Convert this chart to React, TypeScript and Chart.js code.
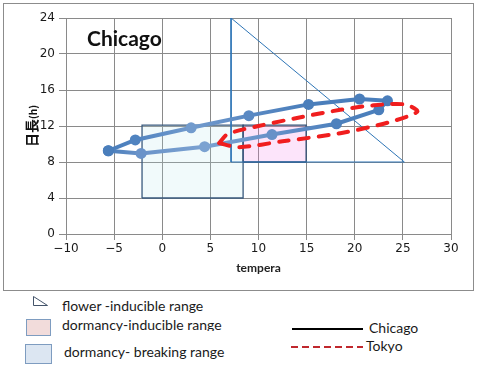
import React, { useEffect, useRef } from "react";
import { Chart, registerables } from "chart.js";

Chart.register(...registerables);

// ---- data ----
const months = ["Jan", "Feb", "Mar", "Apr", "May", "Jun", "Jul", "Aug", "Sep", "Oct", "Nov", "Dec"];
const chicagoTemp = [-5.6, -2.8, 3.0, 9.0, 15.2, 20.5, 23.4, 22.5, 18.1, 11.4, 4.4, -2.2];
const chicagoDay = [9.25, 10.45, 11.8, 13.15, 14.4, 15.0, 14.8, 13.8, 12.25, 11.05, 9.7, 8.95];
const tokyoTemp = [5.9, 6.8, 10.0, 14.5, 18.5, 22.0, 25.2, 26.5, 23.5, 18.5, 12.5, 8.0];
const tokyoDay = [10.1, 11.1, 12.0, 13.0, 13.8, 14.3, 14.4, 13.6, 12.4, 11.2, 10.3, 9.65];
const flowerX = [7.15, 7.15, 25.15, 7.15];
const flowerY = [24, 8, 8, 24];
const breakingX = [-2.1, 8.4, 8.4, -2.1, -2.1];
const breakingY = [4, 4, 12.1, 12.1, 4];
const inducibleX = [8.4, 14.95, 14.95, 8.4, 8.4];
const inducibleY = [8, 8, 12.1, 12.1, 8];
const xTicks = [-10, -5, 0, 5, 10, 15, 20, 25, 30];
const yTicks = [0, 4, 8, 12, 16, 20, 24];

// ---- styles ----
const chicagoColors = [
  "#4a7ebb", "#5083c0", "#729bcd", "#5a89c3", "#4a7ebb", "#4a7ebb",
  "#4a7ebb", "#4a7ebb", "#4e81bd", "#6690c8", "#7ba2d1", "#6a93c9",
];

const toPts = (xs: number[], ys: number[]) => xs.map((x, i) => ({ x, y: ys[i] }));
const closeLoop = (xs: number[], ys: number[]) => {
  const p = toPts(xs, ys);
  return [...p, p[0]];
};

export default function App() {
  const ref = useRef<HTMLCanvasElement>(null);

  useEffect(() => {
    const canvas = ref.current;
    if (!canvas) return;
    const chart = new Chart(canvas, {
      type: "scatter",
      data: {
        labels: months,
        datasets: [
          {
            label: "Tokyo",
            data: closeLoop(tokyoTemp, tokyoDay),
            showLine: true,
            borderColor: "#f01e1e",
            borderWidth: 4,
            borderDash: [10, 10],
            borderCapStyle: "round",
            tension: 0.28,
            pointRadius: 0,
            fill: false,
          },
          {
            label: "Chicago",
            data: closeLoop(chicagoTemp, chicagoDay),
            showLine: true,
            borderColor: "#4a7ebb",
            borderWidth: 4,
            tension: 0,
            pointRadius: 5.5,
            pointBorderWidth: 0,
            pointBackgroundColor: [...chicagoColors, chicagoColors[0]],
            fill: false,
            segment: {
              borderColor: (ctx: any) => {
                const c = ctx.chart.ctx as CanvasRenderingContext2D;
                const g = c.createLinearGradient(ctx.p0.x, ctx.p0.y, ctx.p1.x, ctx.p1.y);
                g.addColorStop(0, chicagoColors[ctx.p0DataIndex % 12]);
                g.addColorStop(1, chicagoColors[ctx.p1DataIndex % 12]);
                return g;
              },
            },
          },
          {
            label: "flower-inducible range",
            data: toPts(flowerX, flowerY),
            showLine: true,
            borderColor: "#2e75b6",
            borderWidth: 1,
            tension: 0,
            pointRadius: 0,
            fill: false,
          },
          {
            label: "dormancy-inducible range",
            data: toPts(inducibleX, inducibleY),
            showLine: true,
            borderColor: "#2f4f74",
            backgroundColor: "rgba(240,120,230,0.2)",
            borderWidth: 1.3,
            tension: 0,
            pointRadius: 0,
            fill: "shape",
          },
          {
            label: "dormancy-breaking range",
            data: toPts(breakingX, breakingY),
            showLine: true,
            borderColor: "#3a5a7e",
            backgroundColor: "rgba(180,225,235,0.18)",
            borderWidth: 1.3,
            tension: 0,
            pointRadius: 0,
            fill: "shape",
          },
        ],
      },
      options: {
        responsive: false,
        animation: false,
        devicePixelRatio: 1,
        layout: { padding: { left: 16, right: 29, top: 18, bottom: 16 } },
        plugins: {
          legend: { display: false },
          tooltip: { enabled: false },
          title: { display: false },
        },
        scales: {
          x: {
            type: "linear",
            min: xTicks[0],
            max: xTicks[xTicks.length - 1],
            afterFit: (s: any) => { s.height = 45; },
            afterBuildTicks: (s: any) => { s.ticks = xTicks.map((v) => ({ value: v })); },
            ticks: {
              color: "#1a1a1a",
              font: { family: "DejaVu Sans", size: 12 },
              padding: 2,
              maxRotation: 0,
              callback: (v: any) => String(v).replace("-", "\u2212"),
            },
            grid: { color: "#8a8a8a", lineWidth: 1, tickLength: 6, drawTicks: true },
            border: { display: true, color: "#8a8a8a" },
            title: {
              display: true,
              text: "tempera",
              color: "#222",
              font: { family: "Lato", size: 12, weight: "bold" },
              padding: { top: 4, bottom: 4 },
            },
          },
          y: {
            type: "linear",
            min: yTicks[0],
            max: yTicks[yTicks.length - 1],
            afterFit: (s: any) => { s.width = 50; },
            afterBuildTicks: (s: any) => { s.ticks = yTicks.map((v) => ({ value: v })); },
            ticks: {
              color: "#1a1a1a",
              font: { family: "DejaVu Sans", size: 12 },
              padding: 4,
            },
            grid: { color: "#8a8a8a", lineWidth: 1, tickLength: 7, drawTicks: true },
            border: { display: true, color: "#8a8a8a" },
          },
        },
      },
    } as any);
    return () => chart.destroy();
  }, []);

  const text: React.CSSProperties = {
    position: "absolute",
    fontFamily: "Lato, 'Open Sans', sans-serif",
    fontSize: 14,
    color: "#1a1a1a",
    whiteSpace: "nowrap",
    lineHeight: "16px",
  };

  return (
    <div style={{ position: "fixed", left: 0, top: 0, width: 480, height: 366, background: "#fff", overflow: "hidden" }}>
      <div style={{ position: "absolute", left: 3, top: 3, width: 469, height: 286, border: "1px solid #8c8c8c" }} />
      <canvas ref={ref} width={480} height={295} style={{ position: "absolute", left: 0, top: 0, width: 480, height: 295 }} />
      <div style={{ position: "absolute", left: 87, top: 26, fontFamily: "Lato, sans-serif", fontWeight: "bold", fontSize: 21, lineHeight: "24px", color: "#111" }}>
        Chicago
      </div>
      <div
        style={{
          position: "absolute",
          left: 32,
          top: 126,
          transform: "translate(-50%, -50%) rotate(-90deg)",
          fontFamily: "'Noto Sans CJK JP', sans-serif",
          fontWeight: "bold",
          fontSize: 14,
          lineHeight: "15px",
          whiteSpace: "nowrap",
          color: "#111",
        }}
      >
        日長<span style={{ fontSize: 10 }}>(h)</span>
      </div>

      {/* legend */}
      <svg style={{ position: "absolute", left: 32, top: 295 }} width={17} height={12}>
        <polygon points="1.5,1.5 1.5,10.5 15.5,10.5" fill="#fff" stroke="#44546a" strokeWidth={1} />
      </svg>
      <div style={{ ...text, left: 62, top: 298 }}>flower -inducible range</div>

      <div style={{ position: "absolute", left: 26, top: 319, width: 23, height: 15, background: "#f2dcdb", border: "1px solid #7e9cc0" }} />
      <div style={{ ...text, left: 62, top: 317, height: 14, overflow: "hidden" }}>dormancy-inducible range</div>

      <div style={{ position: "absolute", left: 25, top: 344, width: 25, height: 18, background: "#dce6f2", border: "1px solid #7e9cc0" }} />
      <div style={{ ...text, left: 64, top: 344 }}>dormancy- breaking range</div>

      <div style={{ position: "absolute", left: 292, top: 328, width: 71, height: 2, background: "#000" }} />
      <div style={{ ...text, left: 369, top: 320 }}>Chicago</div>

      <svg style={{ position: "absolute", left: 291, top: 344 }} width={72} height={6}>
        <line x1={0} y1={3} x2={72} y2={3} stroke="#c0282d" strokeWidth={2} strokeDasharray="7 4" />
      </svg>
      <div style={{ ...text, left: 366, top: 338 }}>Tokyo</div>
    </div>
  );
}
